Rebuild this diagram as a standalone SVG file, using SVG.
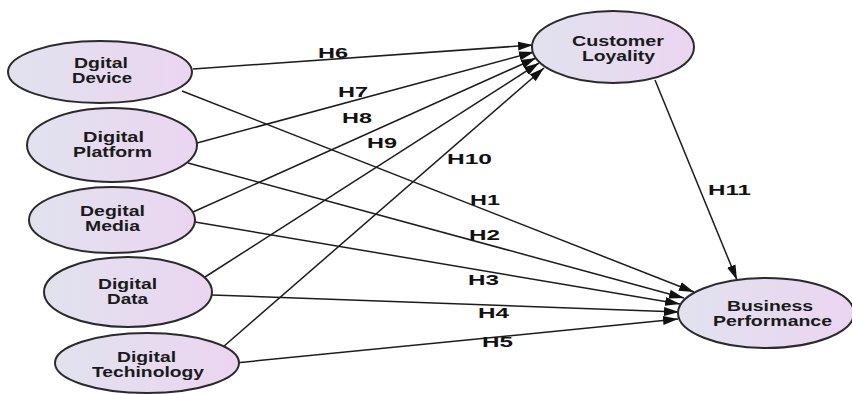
<svg xmlns="http://www.w3.org/2000/svg" width="852" height="394" viewBox="0 0 852 394">
<defs>
<linearGradient id="g" x1="0" y1="0" x2="1" y2="0">
<stop offset="0" stop-color="#e1e2ee"/>
<stop offset="1" stop-color="#ebd5f1"/>
</linearGradient>
<marker id="ah" markerUnits="userSpaceOnUse" markerWidth="16" markerHeight="10" refX="15" refY="5" orient="auto">
<path d="M0,0.5 L15,5 L0,9.5 z" fill="#111"/>
</marker>
<style>
.n{fill:url(#g);stroke:#2a2a2a;stroke-width:2}
.t{font-family:"Liberation Sans",Arial,sans-serif;font-weight:bold;font-size:14px;fill:#1a1a1a}
.l{font-family:"Liberation Sans",Arial,sans-serif;font-weight:bold;font-size:15px;fill:#111}
.e{stroke:#1c1c1c;stroke-width:1.5;fill:none;marker-end:url(#ah)}
</style>
</defs>
<rect width="852" height="394" fill="#fff"/>
<g id="connectors">
<line class="e" x1="193" y1="69" x2="533" y2="45"/>
<line class="e" x1="197" y1="143" x2="534" y2="52"/>
<line class="e" x1="193" y1="212" x2="536" y2="58"/>
<line class="e" x1="205" y1="277" x2="539" y2="63"/>
<line class="e" x1="223" y1="347" x2="544" y2="68"/>
<line class="e" x1="182" y1="91" x2="694" y2="292"/>
<line class="e" x1="188" y1="163" x2="684" y2="298"/>
<line class="e" x1="195" y1="222" x2="680" y2="304"/>
<line class="e" x1="212" y1="295" x2="679" y2="312"/>
<line class="e" x1="235" y1="363" x2="678" y2="319"/>
<line class="e" x1="655" y1="80" x2="737" y2="280"/>
<text class="l" x="318" y="58" textLength="30" lengthAdjust="spacingAndGlyphs">H6</text>
<text class="l" x="338" y="97" textLength="30" lengthAdjust="spacingAndGlyphs">H7</text>
<text class="l" x="342" y="123" textLength="30" lengthAdjust="spacingAndGlyphs">H8</text>
<text class="l" x="367" y="148" textLength="30" lengthAdjust="spacingAndGlyphs">H9</text>
<text class="l" x="447" y="164" textLength="45" lengthAdjust="spacingAndGlyphs">H10</text>
<text class="l" x="470" y="205" textLength="30" lengthAdjust="spacingAndGlyphs">H1</text>
<text class="l" x="469" y="240" textLength="31" lengthAdjust="spacingAndGlyphs">H2</text>
<text class="l" x="468" y="285" textLength="31" lengthAdjust="spacingAndGlyphs">H3</text>
<text class="l" x="478" y="318" textLength="31" lengthAdjust="spacingAndGlyphs">H4</text>
<text class="l" x="482" y="347" textLength="31" lengthAdjust="spacingAndGlyphs">H5</text>
<text class="l" x="708" y="195" textLength="43" lengthAdjust="spacingAndGlyphs">H11</text>
</g>
<g id="dgital-device">
<ellipse class="n" cx="100" cy="72" rx="92" ry="31"/>
<text class="t" x="74" y="68" textLength="54" lengthAdjust="spacingAndGlyphs">Dgital</text>
<text class="t" x="72" y="83" textLength="60" lengthAdjust="spacingAndGlyphs">Device</text>
</g>
<g id="digital-platform">
<ellipse class="n" cx="112" cy="145" rx="85" ry="37"/>
<text class="t" x="83" y="142" textLength="61" lengthAdjust="spacingAndGlyphs">Digital</text>
<text class="t" x="73" y="157" textLength="79" lengthAdjust="spacingAndGlyphs">Platform</text>
</g>
<g id="degital-media">
<ellipse class="n" cx="112" cy="220" rx="83" ry="33"/>
<text class="t" x="80" y="216" textLength="65" lengthAdjust="spacingAndGlyphs">Degital</text>
<text class="t" x="85" y="231" textLength="55" lengthAdjust="spacingAndGlyphs">Media</text>
</g>
<g id="digital-data">
<ellipse class="n" cx="128" cy="292" rx="84" ry="35"/>
<text class="t" x="98" y="289" textLength="59" lengthAdjust="spacingAndGlyphs">Digital</text>
<text class="t" x="107" y="304" textLength="41" lengthAdjust="spacingAndGlyphs">Data</text>
</g>
<g id="digital-techinology">
<ellipse class="n" cx="147" cy="363" rx="92" ry="30"/>
<text class="t" x="117" y="362" textLength="59" lengthAdjust="spacingAndGlyphs">Digital</text>
<text class="t" x="92" y="377" textLength="112" lengthAdjust="spacingAndGlyphs">Techinology</text>
</g>
<g id="customer-loyality">
<ellipse class="n" cx="613" cy="47" rx="81" ry="36"/>
<text class="t" x="572" y="46" textLength="92" lengthAdjust="spacingAndGlyphs">Customer</text>
<text class="t" x="582" y="61" textLength="73" lengthAdjust="spacingAndGlyphs">Loyality</text>
</g>
<g id="business-performance">
<ellipse class="n" cx="766" cy="313" rx="88" ry="35"/>
<text class="t" x="727" y="311" textLength="86" lengthAdjust="spacingAndGlyphs">Business</text>
<text class="t" x="713" y="326" textLength="119" lengthAdjust="spacingAndGlyphs">Performance</text>
</g>
</svg>
